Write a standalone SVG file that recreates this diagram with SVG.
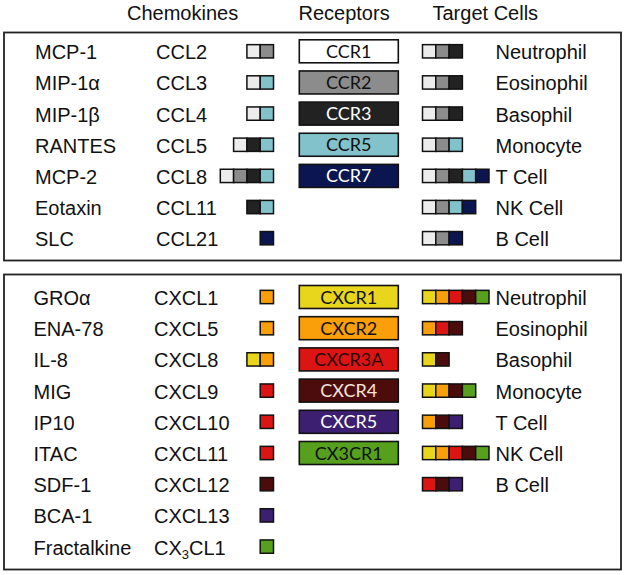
<svg xmlns="http://www.w3.org/2000/svg" width="626" height="575" viewBox="0 0 626 575">
<style>
text{font-family:"Liberation Sans",Arial,sans-serif;font-size:20px;fill:#111}
.rt{font-family:Lato,"Open Sans",sans-serif;font-size:18px;text-anchor:middle}
.w{fill:#fff}
.panel{fill:#fff;stroke:#222;stroke-width:1.8}
.rb{stroke:#111;stroke-width:1.6}
.c{stroke:#111;stroke-width:1.5}
.lg{fill:#ececec}.gr{fill:#8c8c8c}.dk{fill:#222}.tl{fill:#82c3cb}.nv{fill:#0b1650}.wh{fill:#fff}
.ye{fill:#e8d61c}.or{fill:#fa9e0a}.rd{fill:#dc1414}.mr{fill:#4c0c0c}.pu{fill:#3c1f70}.gn{fill:#56a01e}
</style>
<rect width="626" height="575" fill="#fff"/>
<g id="headers">
<text x="127" y="20">Chemokines</text>
<text x="298.5" y="20">Receptors</text>
<text x="432.5" y="20">Target Cells</text>
</g>
<g id="cc-panel">
<rect class="panel" x="4" y="32.5" width="617" height="228"/>
<g id="ccl2"><text x="35" y="59.2">MCP-1</text><text x="156" y="59.2">CCL2</text>
<rect class="c lg" x="246.9" y="44.65" width="13.3" height="13.3"/><rect class="c gr" x="260.2" y="44.65" width="13.3" height="13.3"/></g>
<g id="ccl3"><text x="35" y="90.35">MIP-1α</text><text x="156" y="90.35">CCL3</text>
<rect class="c lg" x="246.9" y="75.8" width="13.3" height="13.3"/><rect class="c tl" x="260.2" y="75.8" width="13.3" height="13.3"/></g>
<g id="ccl4"><text x="35" y="121.5">MIP-1β</text><text x="156" y="121.5">CCL4</text>
<rect class="c lg" x="246.9" y="106.95" width="13.3" height="13.3"/><rect class="c tl" x="260.2" y="106.95" width="13.3" height="13.3"/></g>
<g id="ccl5"><text x="35" y="152.65">RANTES</text><text x="156" y="152.65">CCL5</text>
<rect class="c lg" x="233.6" y="138.1" width="13.3" height="13.3"/><rect class="c dk" x="246.9" y="138.1" width="13.3" height="13.3"/><rect class="c tl" x="260.2" y="138.1" width="13.3" height="13.3"/></g>
<g id="ccl8"><text x="35" y="183.8">MCP-2</text><text x="156" y="183.8">CCL8</text>
<rect class="c lg" x="220.3" y="169.25" width="13.3" height="13.3"/><rect class="c gr" x="233.6" y="169.25" width="13.3" height="13.3"/><rect class="c dk" x="246.9" y="169.25" width="13.3" height="13.3"/><rect class="c tl" x="260.2" y="169.25" width="13.3" height="13.3"/></g>
<g id="ccl11"><text x="35" y="214.95">Eotaxin</text><text x="156" y="214.95">CCL11</text>
<rect class="c dk" x="246.9" y="200.4" width="13.3" height="13.3"/><rect class="c tl" x="260.2" y="200.4" width="13.3" height="13.3"/></g>
<g id="ccl21"><text x="35" y="246.1">SLC</text><text x="156" y="246.1">CCL21</text>
<rect class="c nv" x="260.2" y="231.55" width="13.3" height="13.3"/></g>

<g id="ccr1"><rect class="rb wh" x="299.3" y="39.8" width="99" height="23"/><text class="rt" x="348.8" y="57.8">CCR1</text></g>
<g id="ccr2"><rect class="rb gr" x="299.3" y="70.95" width="99" height="23"/><text class="rt" x="348.8" y="88.95">CCR2</text></g>
<g id="ccr3"><rect class="rb dk" x="299.3" y="102.1" width="99" height="23"/><text class="rt w" x="348.8" y="120.1">CCR3</text></g>
<g id="ccr5"><rect class="rb tl" x="299.3" y="133.25" width="99" height="23"/><text class="rt" x="348.8" y="151.25">CCR5</text></g>
<g id="ccr7"><rect class="rb nv" x="299.3" y="164.4" width="99" height="23"/><text class="rt w" x="348.8" y="182.4">CCR7</text></g>

<g id="cc-neutrophil"><rect class="c lg" x="422.5" y="44.65" width="13.3" height="13.3"/><rect class="c gr" x="435.8" y="44.65" width="13.3" height="13.3"/><rect class="c dk" x="449.1" y="44.65" width="13.3" height="13.3"/><text x="495.5" y="59.2">Neutrophil</text></g>
<g id="cc-eosinophil"><rect class="c lg" x="422.5" y="75.8" width="13.3" height="13.3"/><rect class="c gr" x="435.8" y="75.8" width="13.3" height="13.3"/><rect class="c dk" x="449.1" y="75.8" width="13.3" height="13.3"/><text x="495.5" y="90.35">Eosinophil</text></g>
<g id="cc-basophil"><rect class="c lg" x="422.5" y="106.95" width="13.3" height="13.3"/><rect class="c gr" x="435.8" y="106.95" width="13.3" height="13.3"/><rect class="c dk" x="449.1" y="106.95" width="13.3" height="13.3"/><text x="495.5" y="121.5">Basophil</text></g>
<g id="cc-monocyte"><rect class="c lg" x="422.5" y="138.1" width="13.3" height="13.3"/><rect class="c gr" x="435.8" y="138.1" width="13.3" height="13.3"/><rect class="c tl" x="449.1" y="138.1" width="13.3" height="13.3"/><text x="495.5" y="152.65">Monocyte</text></g>
<g id="cc-tcell"><rect class="c lg" x="422.5" y="169.25" width="13.3" height="13.3"/><rect class="c gr" x="435.8" y="169.25" width="13.3" height="13.3"/><rect class="c dk" x="449.1" y="169.25" width="13.3" height="13.3"/><rect class="c tl" x="462.4" y="169.25" width="13.3" height="13.3"/><rect class="c nv" x="475.7" y="169.25" width="13.3" height="13.3"/><text x="495.5" y="183.8">T Cell</text></g>
<g id="cc-nkcell"><rect class="c lg" x="422.5" y="200.4" width="13.3" height="13.3"/><rect class="c gr" x="435.8" y="200.4" width="13.3" height="13.3"/><rect class="c tl" x="449.1" y="200.4" width="13.3" height="13.3"/><rect class="c nv" x="462.4" y="200.4" width="13.3" height="13.3"/><text x="495.5" y="214.95">NK Cell</text></g>
<g id="cc-bcell"><rect class="c lg" x="422.5" y="231.55" width="13.3" height="13.3"/><rect class="c gr" x="435.8" y="231.55" width="13.3" height="13.3"/><rect class="c nv" x="449.1" y="231.55" width="13.3" height="13.3"/><text x="495.5" y="246.1">B Cell</text></g>
</g>

<g id="cxc-panel">
<rect class="panel" x="4" y="274.5" width="617" height="295"/>
<g id="cxcl1"><text x="33.5" y="305">GROα</text><text x="154" y="305">CXCL1</text><rect class="c or" x="260.2" y="290.35" width="13.3" height="13.3"/></g>
<g id="cxcl5"><text x="33.5" y="336.2">ENA-78</text><text x="154" y="336.2">CXCL5</text><rect class="c or" x="260.2" y="321.55" width="13.3" height="13.3"/></g>
<g id="cxcl8"><text x="33.5" y="367.4">IL-8</text><text x="154" y="367.4">CXCL8</text><rect class="c ye" x="246.9" y="352.75" width="13.3" height="13.3"/><rect class="c or" x="260.2" y="352.75" width="13.3" height="13.3"/></g>
<g id="cxcl9"><text x="33.5" y="398.6">MIG</text><text x="154" y="398.6">CXCL9</text><rect class="c rd" x="260.2" y="383.95" width="13.3" height="13.3"/></g>
<g id="cxcl10"><text x="33.5" y="429.8">IP10</text><text x="154" y="429.8">CXCL10</text><rect class="c rd" x="260.2" y="415.15" width="13.3" height="13.3"/></g>
<g id="cxcl11"><text x="33.5" y="461">ITAC</text><text x="154" y="461">CXCL11</text><rect class="c rd" x="260.2" y="446.35" width="13.3" height="13.3"/></g>
<g id="cxcl12"><text x="33.5" y="492.2">SDF-1</text><text x="154" y="492.2">CXCL12</text><rect class="c mr" x="260.2" y="477.55" width="13.3" height="13.3"/></g>
<g id="cxcl13"><text x="33.5" y="523.4">BCA-1</text><text x="154" y="523.4">CXCL13</text><rect class="c pu" x="260.2" y="508.75" width="13.3" height="13.3"/></g>
<g id="cx3cl1"><text x="33.5" y="554.6">Fractalkine</text><text x="154" y="554.6">CX<tspan font-size="13" dy="4">3</tspan><tspan dy="-4">CL1</tspan></text><rect class="c gn" x="260.2" y="539.95" width="13.3" height="13.3"/></g>

<g id="cxcr1"><rect class="rb ye" x="299.3" y="285.5" width="99" height="23"/><text class="rt" x="348.8" y="303.5">CXCR1</text></g>
<g id="cxcr2"><rect class="rb or" x="299.3" y="316.7" width="99" height="23"/><text class="rt" x="348.8" y="334.7">CXCR2</text></g>
<g id="cxcr3a"><rect class="rb rd" x="299.3" y="347.9" width="99" height="23"/><text class="rt" x="348.8" y="365.9" style="fill:#2a0606">CXCR3A</text></g>
<g id="cxcr4"><rect class="rb mr" x="299.3" y="379.1" width="99" height="23"/><text class="rt" x="348.8" y="397.1" style="fill:#f6e4d6">CXCR4</text></g>
<g id="cxcr5"><rect class="rb pu" x="299.3" y="410.3" width="99" height="23"/><text class="rt w" x="348.8" y="428.3">CXCR5</text></g>
<g id="cx3cr1"><rect class="rb gn" x="299.3" y="441.5" width="99" height="23"/><text class="rt" x="348.8" y="459.5">CX3CR1</text></g>

<g id="cxc-neutrophil"><rect class="c ye" x="422.5" y="290.35" width="13.3" height="13.3"/><rect class="c or" x="435.8" y="290.35" width="13.3" height="13.3"/><rect class="c rd" x="449.1" y="290.35" width="13.3" height="13.3"/><rect class="c mr" x="462.4" y="290.35" width="13.3" height="13.3"/><rect class="c gn" x="475.7" y="290.35" width="13.3" height="13.3"/><text x="495.5" y="305">Neutrophil</text></g>
<g id="cxc-eosinophil"><rect class="c or" x="422.5" y="321.55" width="13.3" height="13.3"/><rect class="c rd" x="435.8" y="321.55" width="13.3" height="13.3"/><rect class="c mr" x="449.1" y="321.55" width="13.3" height="13.3"/><text x="495.5" y="336.2">Eosinophil</text></g>
<g id="cxc-basophil"><rect class="c ye" x="422.5" y="352.75" width="13.3" height="13.3"/><rect class="c mr" x="435.8" y="352.75" width="13.3" height="13.3"/><text x="495.5" y="367.4">Basophil</text></g>
<g id="cxc-monocyte"><rect class="c ye" x="422.5" y="383.95" width="13.3" height="13.3"/><rect class="c or" x="435.8" y="383.95" width="13.3" height="13.3"/><rect class="c mr" x="449.1" y="383.95" width="13.3" height="13.3"/><rect class="c gn" x="462.4" y="383.95" width="13.3" height="13.3"/><text x="495.5" y="398.6">Monocyte</text></g>
<g id="cxc-tcell"><rect class="c or" x="422.5" y="415.15" width="13.3" height="13.3"/><rect class="c mr" x="435.8" y="415.15" width="13.3" height="13.3"/><rect class="c pu" x="449.1" y="415.15" width="13.3" height="13.3"/><text x="495.5" y="429.8">T Cell</text></g>
<g id="cxc-nkcell"><rect class="c ye" x="422.5" y="446.35" width="13.3" height="13.3"/><rect class="c or" x="435.8" y="446.35" width="13.3" height="13.3"/><rect class="c rd" x="449.1" y="446.35" width="13.3" height="13.3"/><rect class="c mr" x="462.4" y="446.35" width="13.3" height="13.3"/><rect class="c gn" x="475.7" y="446.35" width="13.3" height="13.3"/><text x="495.5" y="461">NK Cell</text></g>
<g id="cxc-bcell"><rect class="c rd" x="422.5" y="477.55" width="13.3" height="13.3"/><rect class="c mr" x="435.8" y="477.55" width="13.3" height="13.3"/><rect class="c pu" x="449.1" y="477.55" width="13.3" height="13.3"/><text x="495.5" y="492.2">B Cell</text></g>
</g>
<g id="connectors"/>
</svg>
